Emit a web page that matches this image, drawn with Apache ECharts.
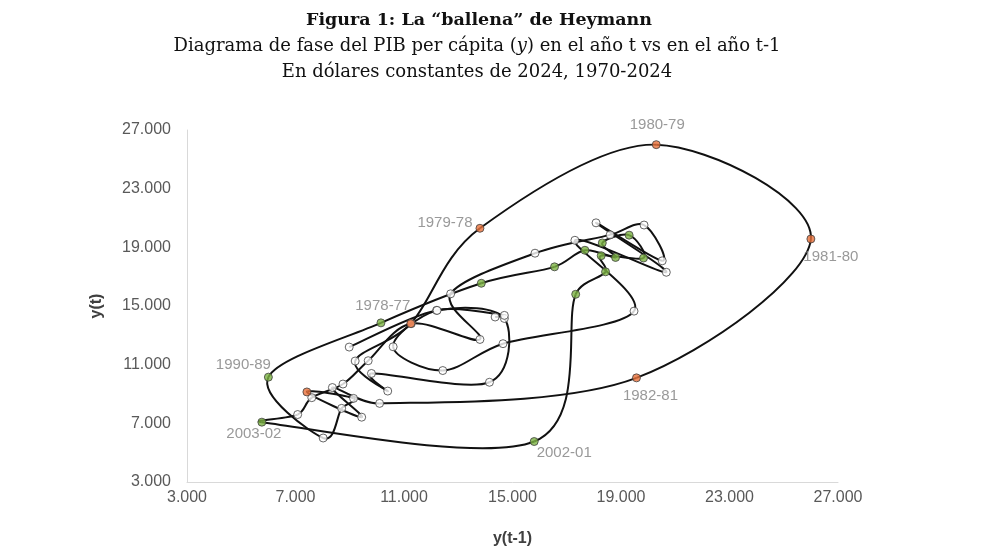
<!DOCTYPE html>
<html><head><meta charset="utf-8">
<script src="https://cdn.jsdelivr.net/npm/echarts@6/dist/echarts.min.js"></script>
<style>html,body{margin:0;padding:0;background:#fff}#c{width:987px;height:555px}</style>
</head><body><div id="c"></div><script>
// GDP per capita (constant 2024 USD), 1970-2024
const years = [1970,1971,1972,1973,1974,1975,1976,1977,1978,1979,1980,1981,1982,1983,1984,1985,1986,1987,1988,1989,1990,1991,1992,1993,1994,1995,1996,1997,1998,1999,2000,2001,2002,2003,2004,2005,2006,2007,2008,2009,2010,2011,2012,2013,2014,2015,2016,2017,2018,2019,2020,2021,2022,2023,2024];
const gdp = [8980,12200,14700,14150,9800,10400,9200,11250,13800,20300,26000,19570,10100,8360,9440,7420,9140,8700,8020,6000,10150,13850,16550,17670,18800,18310,19300,19830,18270,18430,17330,15800,5760,7080,7600,8750,9680,11270,13800,12720,15830,18600,19850,20520,18080,20670,17300,19480,14650,12430,10600,12220,14700,14360,14250];
const axisTicks = [3000,7000,11000,15000,19000,23000,27000];
// marker groups (by year t of the pair t vs t-1)
const orangeYears = [1978,1979,1980,1981,1982,1986];
const greenYears = [1990,1991,1992,1993,1994,1995,1996,1997,1998,1999,2000,2001,2002,2003];
const labeledYears = [1978,1979,1980,1981,1982,1990,2002,2003];

// label offsets (style)
const labelOffset = {1978:[-28,-18],1979:[-35,-5],1980:[1,-20],1981:[20,18],1982:[14,18],1990:[-25,-12],2003:[-8,12],2002:[30,11]};

const pts = [];
for (let i = 1; i < years.length; i++) {
  const t = years[i];
  pts.push({year: t, name: t + '-' + String(t - 1).slice(2), value: [gdp[i-1], gdp[i]]});
}
function item(p) {
  const o = {name: p.name, value: p.value};
  if (labeledYears.includes(p.year)) {
    o.label = {show: true, position: 'inside', offset: labelOffset[p.year], formatter: p.name,
      color: '#808080', fontSize: 15, fontFamily: 'Liberation Sans, Arial, sans-serif'};
  }
  return o;
}
const white = pts.filter(p => !orangeYears.includes(p.year) && !greenYears.includes(p.year)).map(item);
const green = pts.filter(p => greenYears.includes(p.year)).map(item);
const orange = pts.filter(p => orangeYears.includes(p.year)).map(item);

// smoothed path (Bezier with Catmull-Rom tangents, limited by segment length), pixel space via the axes
function renderCurve(params, api) {
  const P = pts.map(p => api.coord(p.value));
  const n = P.length, k = 1/6, c = 0.4;
  const dist = (a, b) => Math.hypot(a[0] - b[0], a[1] - b[1]);
  function ctrl(i, dir) { // dir=+1 outgoing, -1 incoming
    const a = P[Math.max(i - 1, 0)], b = P[Math.min(i + 1, n - 1)];
    let tx = (b[0] - a[0]) * k, ty = (b[1] - a[1]) * k;
    const len = Math.hypot(tx, ty);
    const seg = dir > 0 ? dist(P[i], P[Math.min(i + 1, n - 1)]) : dist(P[i], P[Math.max(i - 1, 0)]);
    if (len > c * seg && len > 0) { const s = c * seg / len; tx *= s; ty *= s; }
    return [P[i][0] + dir * tx, P[i][1] + dir * ty];
  }
  const children = [];
  for (let i = 0; i < n - 1; i++) {
    const c1 = ctrl(i, 1), c2 = ctrl(i + 1, -1);
    children.push({type: 'bezierCurve', shape: {
      x1: P[i][0], y1: P[i][1], x2: P[i+1][0], y2: P[i+1][1],
      cpx1: c1[0], cpy1: c1[1], cpx2: c2[0], cpy2: c2[1]},
      style: {stroke: '#111', lineWidth: 2, fill: null}});
  }
  return {type: 'group', children: children};
}

const fmt = v => Math.floor(v/1000) + '.' + String(v % 1000).padStart(3, '0');
const axisCommon = {
  type: 'value', min: axisTicks[0], max: axisTicks[axisTicks.length-1], interval: 4000,
  axisLine: {show: true, lineStyle: {color: '#d9d9d9', width: 1}},
  axisTick: {show: false}, splitLine: {show: false},
  nameLocation: 'middle',
  nameTextStyle: {fontSize: 16, fontWeight: 'bold', color: '#404040', fontFamily: 'Liberation Sans, Arial, sans-serif'}
};
const chart = echarts.init(document.getElementById('c'));
const serif = 'DejaVu Serif, serif';
chart.setOption({
  animation: false,
  backgroundColor: '#fff',
  graphic: [
    {type: 'text', x: 479, y: 20, style: {text: 'Figura 1: La \u201cballena\u201d de Heymann', font: 'bold 17.5px ' + serif, fill: '#111', textAlign: 'center', textVerticalAlign: 'middle'}},
    {type: 'text', x: 477, y: 46, style: {text: 'Diagrama de fase del PIB per cápita ({i|y}) en el año t vs en el año t-1', font: '18px ' + serif, fill: '#111', textAlign: 'center', textVerticalAlign: 'middle', rich: {i: {fontStyle: 'italic', fontFamily: serif, fontSize: 18, fill: '#111'}}}},
    {type: 'text', x: 477, y: 72, style: {text: 'En dólares constantes de 2024, 1970-2024', font: '18px ' + serif, fill: '#111', textAlign: 'center', textVerticalAlign: 'middle'}}
  ],
  grid: {left: 187, right: 149, top: 130, bottom: 73},
  xAxis: Object.assign({}, axisCommon, {name: 'y(t-1)', nameGap: 49,
    axisLabel: {formatter: fmt, fontSize: 16, color: '#595959', margin: 8, fontFamily: 'Liberation Sans, Arial, sans-serif'}}),
  yAxis: Object.assign({}, axisCommon, {name: 'y(t)', nameGap: 82, nameRotate: 90,
    axisLabel: {formatter: fmt, fontSize: 16, color: '#595959', margin: 16, fontFamily: 'Liberation Sans, Arial, sans-serif'}}),
  series: [
    {type: 'custom', renderItem: renderCurve, data: [pts[0].value], z: 2, silent: true, clip: false},
    {type: 'scatter', data: white, symbolSize: 8, itemStyle: {color: '#fff', borderColor: '#404040', borderWidth: 1}, z: 3},
    {type: 'scatter', data: green, symbolSize: 8, itemStyle: {color: '#7cb342', borderColor: '#404040', borderWidth: 1}, z: 4},
    {type: 'scatter', data: orange, symbolSize: 8, itemStyle: {color: '#e8703a', borderColor: '#404040', borderWidth: 1}, z: 5}
  ]
});
</script></body></html>
